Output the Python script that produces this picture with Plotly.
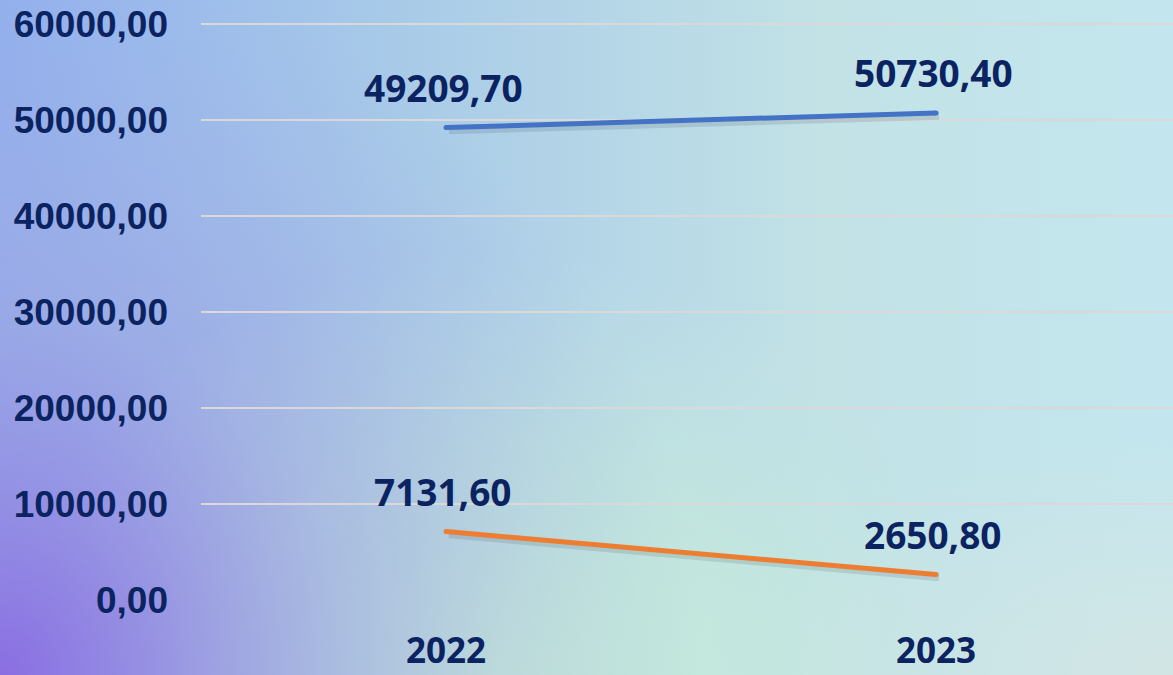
import base64
import plotly.graph_objects as go

# Data
years = ["2022", "2023"]
series_blue = [49209.70, 50730.40]
series_orange = [7131.60, 2650.80]
y_ticks = [0, 10000, 20000, 30000, 40000, 50000, 60000]
y_tick_labels = ["0,00", "10000,00", "20000,00", "30000,00", "40000,00", "50000,00", "60000,00"]

W, H = 1173, 675
ML, MR, MT, MB = 201, 0, 22, 75
NAVY = "#0b2461"
LABEL_FONT = "Open Sans"


def fmt(v):
    return f"{v:.2f}".replace(".", ",")


# Soft multi-colour backdrop built as an SVG gradient
svg = f"""<svg xmlns='http://www.w3.org/2000/svg' width='{W}' height='{H}' viewBox='0 0 {W} {H}' preserveAspectRatio='none'>
<defs>
<linearGradient id='base' x1='0' y1='0' x2='1' y2='0'>
<stop offset='0' stop-color='#92b0ee'/>
<stop offset='0.35' stop-color='#a9cbe8'/>
<stop offset='0.7' stop-color='#c2e2e6'/>
<stop offset='1' stop-color='#c3e6ee'/>
</linearGradient>
<radialGradient id='purple' cx='0' cy='1' r='0.6' gradientUnits='objectBoundingBox' gradientTransform='translate(0,1) scale(1,1.8) translate(0,-1)'>
<stop offset='0' stop-color='#8a6ee2' stop-opacity='1'/>
<stop offset='0.5' stop-color='#9da4e2' stop-opacity='0.6'/>
<stop offset='1' stop-color='#a0b0e6' stop-opacity='0'/>
</radialGradient>
<radialGradient id='green' cx='0.42' cy='1' r='0.42' gradientUnits='objectBoundingBox' gradientTransform='translate(0.42,1) scale(1,1.5) translate(-0.42,-1)'>
<stop offset='0' stop-color='#ccf3d6' stop-opacity='1'/>
<stop offset='0.55' stop-color='#c6ecda' stop-opacity='0.6'/>
<stop offset='1' stop-color='#c4e6e0' stop-opacity='0'/>
</radialGradient>
<radialGradient id='rb' cx='1' cy='1' r='0.35' gradientUnits='objectBoundingBox'>
<stop offset='0' stop-color='#d2e5e4' stop-opacity='1'/>
<stop offset='1' stop-color='#d2e5e4' stop-opacity='0'/>
</radialGradient>
</defs>
<rect width='{W}' height='{H}' fill='url(#base)'/>
<rect width='{W}' height='{H}' fill='url(#green)'/>
<rect width='{W}' height='{H}' fill='url(#rb)'/>
<rect width='{W}' height='{H}' fill='url(#purple)'/>
</svg>"""
bg_uri = "data:image/svg+xml;base64," + base64.b64encode(svg.encode()).decode()

pw = W - ML - MR
ph = H - MT - MB
y_top = 60000 + 2 * 10000 / 96  # keep the top gridline just inside the plot area

fig = go.Figure()

# Soft drop shadows under each line
shadow_dy = 280
xi = list(range(len(years)))
for vals in (series_blue, series_orange):
    fig.add_trace(go.Scatter(
        x=[i + 0.006 for i in xi], y=[v - shadow_dy for v in vals], mode="lines",
        line=dict(color="rgba(40,50,60,0.13)", width=8),
        hoverinfo="skip", showlegend=False,
    ))

for vals, color in ((series_blue, "#4472c4"), (series_orange, "#ed7d31")):
    fig.add_trace(go.Scatter(
        x=xi, y=vals, mode="lines+markers",
        line=dict(color=color, width=5),
        marker=dict(color=color, size=5),
        hoverinfo="skip", showlegend=False,
    ))
    for i, v in zip(xi, vals):
        fig.add_annotation(
            x=i, y=v, text=f"<b>{fmt(v)}</b>", showarrow=False,
            xanchor="center", yanchor="middle", yshift=40, xshift=-3,
            font=dict(family=LABEL_FONT, size=37, color=NAVY),
        )

fig.update_layout(
    width=W, height=H,
    margin=dict(l=ML, r=MR, t=MT, b=MB, pad=0, autoexpand=False),
    paper_bgcolor="rgba(0,0,0,0)",
    plot_bgcolor="rgba(0,0,0,0)",
    images=[dict(
        source=bg_uri, xref="paper", yref="paper",
        x=-ML / pw, y=1 + MT / ph, sizex=W / pw, sizey=H / ph,
        xanchor="left", yanchor="top", sizing="stretch", layer="below",
    )],
    xaxis=dict(
        range=[-0.5, -0.5 + pw / 490], automargin=False,
        tickvals=xi, ticktext=[f"<b>{y}</b>" for y in years],
        showgrid=False, zeroline=False, showline=False, ticks="",
        tickfont=dict(family=LABEL_FONT, size=35, color=NAVY),
        ticklabelstandoff=27,
    ),
    yaxis=dict(
        range=[0, y_top], tickvals=y_ticks, ticktext=y_tick_labels, automargin=False,
        showgrid=True, gridcolor="#d9d9d9", gridwidth=2,
        zeroline=False, showline=False, ticks="",
        tickfont=dict(family="Liberation Sans", size=37, color=NAVY, weight="bold"),
        ticklabelstandoff=32,
    ),
)

fig.write_html("out.html")
